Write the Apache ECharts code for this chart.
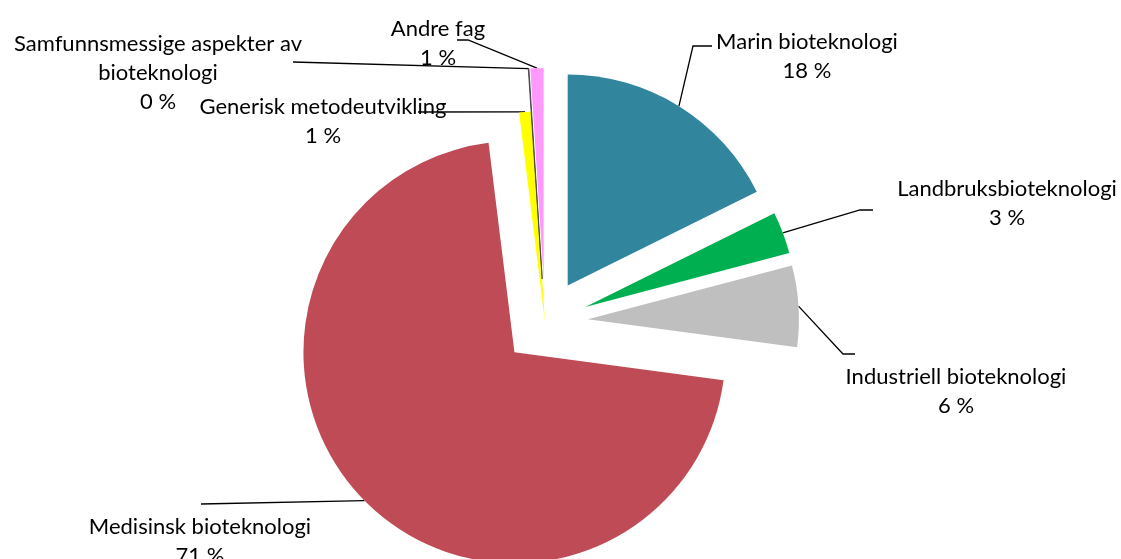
<!DOCTYPE html>
<html>
<head>
<meta charset="utf-8">
<script src="https://cdn.jsdelivr.net/npm/echarts@6/dist/echarts.min.js"></script>
<style>
  html, body { margin: 0; padding: 0; background: #fff; }
  #chart { width: 1121px; height: 559px; }
</style>
</head>
<body>
<div id="chart"></div>
<script>
// Fagområder innen bioteknologi – andel (%)
const categories = [
  'Marin bioteknologi',
  'Landbruksbioteknologi',
  'Industriell bioteknologi',
  'Medisinsk bioteknologi',
  'Generisk metodeutvikling',
  'Samfunnsmessige aspekter av\nbioteknologi',
  'Andre fag'
];
const shares = [17.6, 3.2, 6.2, 70.6, 0.9, 0.05, 1.0];
const sliceColors = ['#31859C', '#00B050', '#BFBFBF', '#BE4B55', '#FFFF00', '#404040', '#FF99FF'];

// Pie geometry: common centre, radius and how far each slice is pulled out
const pieCenter = [545, 322];
const pieRadius = 211;
const explodeBy = [43, 43, 43, 43, 0, 43, 43];

// Label block centres and leader-line elbows / ends
const labelCenters = [[807, 56], [1007, 203], [956, 391], [200, 541], [323, 121], [158, 73], [438, 43]];
const leaderBends = [[693, 46], [860, 210], [843, 354], null, null, null, [468, 40]];
const leaderEnds = [[712, 46], [873, 210], [855, 354], [201, 504], [418, 112], [293, 62], [457, 40]];

const total = shares.reduce((a, b) => a + b, 0);

const hidden = {
  itemStyle: { color: 'rgba(0,0,0,0)', borderWidth: 0 },
  label: { show: false },
  labelLine: { show: false }
};

// One pie per slice so every slice can be pulled out along its own bisector
let before = 0;
const series = categories.map((name, i) => {
  const v = shares[i];
  const mid = (before + v / 2) / total * Math.PI * 2;
  const cx = pieCenter[0] + explodeBy[i] * Math.sin(mid);
  const cy = pieCenter[1] - explodeBy[i] * Math.cos(mid);
  const after = total - before - v;
  const data = [
    Object.assign({ name: '_a' + i, value: before }, hidden),
    {
      name,
      value: v,
      itemStyle: {
        color: sliceColors[i],
        borderColor: i === 5 ? '#404040' : 'rgba(0,0,0,0)',
        borderWidth: i === 5 ? 0.8 : 0
      }
    },
    Object.assign({ name: '_b' + i, value: after }, hidden)
  ];
  before += v;
  return {
    type: 'pie',
    center: [cx, cy],
    radius: [0, pieRadius],
    startAngle: 90,
    clockwise: true,
    avoidLabelOverlap: false,
    emphasis: { disabled: true },
    data,
    label: {
      show: true,
      position: 'outside',
      formatter: p => p.name + '\n' + Math.round(p.value / total * 100) + ' %',
      fontFamily: 'Lato',
      fontSize: 22,
      lineHeight: 29,
      color: '#000',
      align: 'center'
    },
    labelLine: {
      show: true,
      lineStyle: { color: '#000', width: 1.3 }
    },
    labelLayout: function (params) {
      if (params.dataIndex !== 1) return {};
      const c = labelCenters[i];
      const pts = [];
      if (params.labelLinePoints) pts.push(params.labelLinePoints[0]);
      if (leaderBends[i]) pts.push(leaderBends[i]);
      pts.push(leaderEnds[i]);
      return {
        x: c[0],
        y: c[1],
        align: 'center',
        verticalAlign: 'middle',
        labelLinePoints: pts
      };
    }
  };
});

const chart = echarts.init(document.getElementById('chart'), null, { renderer: 'canvas' });
chart.setOption({
  animation: false,
  backgroundColor: '#ffffff',
  series
});
</script>
</body>
</html>
